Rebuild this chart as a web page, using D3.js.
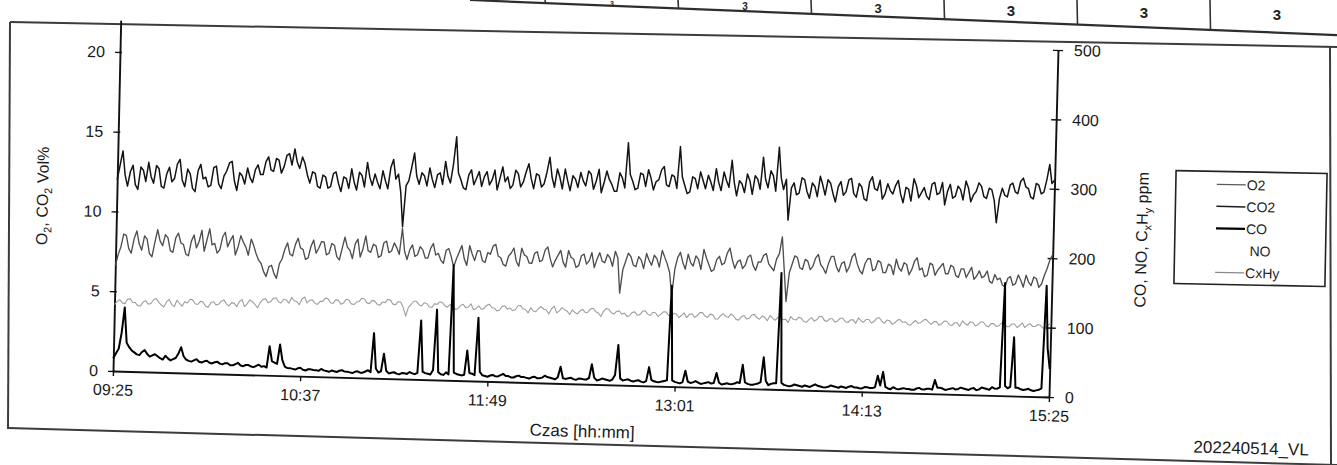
<!DOCTYPE html>
<html><head><meta charset="utf-8">
<script src="https://cdn.jsdelivr.net/npm/d3@7"></script>
<style>
html,body{margin:0;padding:0;background:#fff;}
svg{display:block;font-family:"Liberation Sans",Arial,sans-serif;}
</style></head><body>
<svg id="chart" width="1337" height="465"></svg>
<script>
// ---------------- data ----------------
const timeTicks = [0, 72, 144, 216, 288, 360];           // minutes after 09:25
const timeLabels = ["09:25", "10:37", "11:49", "13:01", "14:13", "15:25"];
const leftTicks = [0, 5, 10, 15, 20];
const rightTicks = [0, 100, 200, 300, 400, 500];
const stepMinutes = 1;                                   // one reading per minute, 09:25 … 15:25
const seriesNames = ["O2", "CO2", "CO", "NO", "CxHy"];
const tableCells = ["3", "3", "3", "3", "3", "3"];
const footerCode = "202240514_VL";

const CO2 = [
12.0,12.9,13.8,12.3,11.6,12.5,12.9,11.7,11.4,12.8,12.6,11.9,13.1,12.2,11.8,12.9,12.7,11.6,11.5,12.4,
12.8,11.9,12.1,13.0,13.3,12.0,11.6,12.7,12.4,11.5,11.3,12.6,13.0,12.1,12.2,11.6,11.7,12.8,12.9,11.8,
11.5,12.3,12.6,13.1,13.2,12.0,11.4,12.5,12.3,11.8,12.8,12.2,11.9,12.7,13.0,12.4,12.4,13.2,13.5,12.7,
12.6,13.4,13.3,12.5,12.9,13.6,13.7,13.0,14.0,13.2,12.8,13.5,13.1,12.4,11.9,12.6,12.5,11.7,11.6,12.4,
12.3,11.6,11.7,12.5,12.6,11.9,11.4,12.3,12.2,11.6,12.8,12.0,11.5,12.6,12.4,11.7,13.2,12.3,11.8,12.5,
12.0,11.6,12.7,12.1,11.6,12.9,13.4,12.2,12.5,11.4,9.3,11.8,12.1,12.9,13.8,12.4,11.9,12.6,12.4,11.8,
12.9,12.2,11.7,12.5,12.6,11.9,13.3,12.4,12.0,13.1,14.8,12.6,12.2,11.7,11.6,12.5,12.8,11.9,12.3,12.7,
11.8,12.4,12.7,11.9,12.2,12.8,11.6,12.3,13.0,12.1,12.4,11.7,11.9,12.8,12.6,11.8,12.1,12.7,13.2,12.3,
11.7,12.6,12.5,11.8,12.0,12.7,13.6,12.4,11.8,12.9,12.4,11.7,12.9,12.2,11.6,12.5,12.3,11.8,12.7,12.2,
11.9,12.8,12.6,11.7,12.2,12.9,11.5,12.1,12.8,12.3,12.0,11.6,11.6,12.7,12.4,11.8,14.5,12.6,12.2,11.7,
11.8,12.7,12.6,11.9,12.9,12.4,11.7,12.2,12.3,12.9,13.1,12.0,11.9,12.6,12.5,11.8,14.3,12.5,12.0,11.5,
11.6,12.5,12.4,11.8,12.8,12.3,11.8,12.6,12.2,11.7,13.0,12.2,11.7,12.8,12.3,11.9,13.5,12.2,11.4,12.3,
12.1,11.6,12.7,12.3,11.5,12.6,12.4,11.8,13.7,12.4,11.9,12.9,12.6,11.7,14.3,12.5,11.8,12.4,10.0,11.9,
12.2,11.5,11.6,12.5,12.4,11.7,11.3,12.2,12.0,11.4,12.6,12.1,11.5,12.4,12.2,11.6,11.1,12.0,12.3,11.5,
11.7,12.4,12.5,11.6,11.4,12.2,12.0,11.3,11.2,12.3,12.6,11.9,11.8,12.4,11.3,11.6,12.2,11.8,11.6,12.1,
12.4,11.6,11.1,12.0,11.9,11.2,12.5,12.1,11.4,11.7,12.0,11.5,11.3,12.2,12.3,11.6,11.7,12.3,11.0,11.8,
12.2,11.4,11.5,12.1,11.9,11.3,12.4,12.0,11.2,11.6,11.8,12.3,12.1,11.5,11.4,12.0,11.9,11.3,10.0,11.4,
12.0,11.6,11.5,12.2,12.3,11.8,11.7,12.4,12.6,12.1,12.0,11.5,11.4,12.3,12.2,11.7,11.8,12.5,13.4,12.3,
12.5];

const O2 = [
6.6,7.3,7.8,8.6,8.5,7.7,7.4,8.3,8.8,8.0,7.6,8.5,8.3,7.4,7.2,8.1,8.9,8.2,7.9,8.6,
8.4,7.6,7.5,8.4,8.7,8.1,8.0,7.4,7.3,8.2,8.6,7.8,8.2,8.9,7.6,8.3,9.0,8.0,8.1,7.5,
7.7,8.5,8.8,7.9,8.3,8.6,7.4,7.9,8.6,8.2,7.9,7.4,8.4,8.0,7.5,7.1,6.9,6.4,6.1,6.7,
6.8,6.3,6.0,6.9,7.2,7.8,8.2,7.5,7.4,8.1,8.5,7.9,7.8,7.2,7.3,8.0,8.4,7.6,7.9,8.3,
8.3,7.5,7.6,8.2,8.1,7.4,7.2,7.9,8.6,8.0,7.8,7.3,8.2,8.5,7.4,7.9,8.7,7.8,7.7,8.2,
8.1,7.4,7.5,8.3,8.4,7.7,7.8,8.3,8.0,7.6,9.2,7.8,7.3,7.9,8.2,7.5,7.6,8.1,7.9,7.4,
7.4,8.0,8.3,7.6,7.7,7.3,7.1,7.9,8.0,7.5,6.9,7.4,7.8,8.2,7.4,7.0,8.2,7.7,7.3,7.9,
7.9,7.3,7.2,7.8,7.7,8.2,8.3,7.6,7.5,7.1,7.0,7.6,7.8,8.1,7.3,7.0,8.1,7.7,7.6,7.2,
7.2,7.8,7.9,7.3,7.4,8.0,8.2,7.5,7.0,7.4,7.7,8.0,7.3,7.0,8.0,7.6,7.5,7.0,7.1,7.7,
7.8,7.2,7.4,7.9,7.0,7.5,7.9,7.4,7.3,7.8,7.6,7.1,8.0,7.6,5.5,6.9,7.4,7.9,7.7,7.2,
7.1,7.7,7.5,7.0,7.9,7.5,7.2,7.8,7.6,7.1,8.1,7.7,7.3,6.8,5.4,7.0,7.7,8.0,7.4,7.0,
7.9,7.4,7.2,7.8,7.6,7.0,8.2,7.7,7.3,6.9,7.0,7.6,7.8,7.3,7.4,8.0,8.3,7.6,7.1,7.5,
7.6,7.1,7.3,7.8,7.9,7.3,7.0,7.5,7.5,7.9,8.0,7.4,7.2,7.0,7.7,8.0,9.0,7.1,5.2,6.9,
7.4,7.9,7.8,7.2,7.1,7.7,7.6,7.1,7.3,7.8,8.0,7.4,7.2,6.9,7.5,7.9,7.9,7.3,7.0,7.5,
7.6,7.0,7.3,7.9,8.1,7.5,7.1,6.9,7.5,7.8,7.8,7.1,7.2,7.7,7.6,7.0,7.0,7.5,7.4,6.9,
7.8,7.3,7.1,7.6,7.5,6.9,7.2,7.7,7.9,7.2,7.3,6.8,6.9,7.6,7.5,6.9,7.2,7.4,7.6,7.0,
7.0,7.5,7.4,6.9,6.8,7.3,7.3,6.8,7.1,7.4,6.7,6.9,7.2,6.8,6.9,7.2,6.6,6.5,7.0,6.7,
6.8,6.4,6.3,6.8,6.9,6.4,6.5,7.0,6.7,6.3,7.0,6.6,6.4,6.9,6.8,6.3,6.5,7.0,7.4,7.9,
8.2];

const CxHy = [
104,109,112,107,106,113,114,108,108,103,103,109,111,106,107,113,115,109,105,102,
110,114,106,103,113,108,104,111,109,115,114,108,107,112,111,105,103,110,112,107,
108,113,115,109,106,111,110,105,113,116,105,110,116,113,109,104,112,117,118,112,
114,119,120,114,112,118,117,112,121,116,115,110,119,122,113,117,118,113,111,116,
116,121,120,114,113,119,118,112,114,120,119,113,112,116,117,122,121,115,114,119,
118,113,112,117,116,121,120,114,113,118,117,109,96,110,114,119,119,114,112,117,
116,111,110,116,115,119,118,113,111,115,114,108,109,114,116,111,112,117,108,110,
114,109,110,115,117,112,111,107,108,114,115,110,112,108,109,115,116,111,110,105,
113,108,107,112,115,111,110,104,112,116,106,109,114,111,109,104,111,107,105,110,
112,107,108,113,114,109,107,102,110,114,113,108,106,110,111,106,108,103,104,109,
110,105,106,111,112,107,105,110,109,104,107,111,111,106,104,109,108,103,106,110,
103,108,109,104,106,111,111,106,104,109,108,102,102,107,110,106,105,110,107,102,
101,106,108,103,104,109,110,105,103,108,106,101,109,105,102,106,107,103,104,99,
108,104,103,107,106,101,100,104,107,102,104,109,109,103,102,106,106,101,103,107,
107,102,101,105,105,100,108,104,102,106,106,101,103,108,109,104,101,106,105,100,
102,106,107,103,104,100,99,103,106,102,103,107,108,104,101,105,105,100,102,106,
106,101,100,104,104,99,107,103,101,106,105,100,102,106,106,101,99,104,104,100,
101,105,105,100,100,104,104,99,102,106,99,103,105,101,101,104,103,99,100,104,
106];

const CO = [
20,28,35,60,100,45,38,33,30,27,26,31,34,28,24,26,28,25,22,20,
26,22,19,21,23,30,40,26,21,19,18,20,22,18,17,19,20,17,16,18,
19,16,15,17,17,14,14,16,18,14,13,15,15,13,12,14,16,13,14,12,
45,22,20,18,48,24,14,12,12,11,10,12,13,10,9,11,11,10,10,9,
12,10,9,8,10,9,8,10,11,9,9,8,7,9,10,8,8,10,12,9,
69,15,9,11,38,12,8,9,10,8,7,9,9,8,11,9,8,10,90,12,
10,9,8,15,107,12,9,8,12,9,175,12,10,9,8,9,46,12,11,9,
96,14,9,8,7,9,10,8,8,10,12,9,9,7,7,9,10,8,8,7,
6,8,9,7,7,8,11,9,8,7,6,9,25,8,7,8,9,7,6,8,
8,7,7,9,30,10,6,7,9,8,7,6,8,15,60,10,7,8,9,7,
6,7,8,6,5,7,28,9,7,6,6,7,8,9,150,9,7,6,5,7,
24,8,6,7,9,7,5,6,7,8,6,7,22,8,5,6,7,6,6,7,
9,8,35,9,7,6,6,7,8,10,47,12,6,8,9,9,172,10,7,6,
5,6,8,7,6,5,7,6,5,7,9,7,6,5,5,6,8,7,6,5,
7,6,5,7,8,6,6,5,5,7,7,6,6,7,24,10,30,8,6,5,
8,6,5,6,7,6,6,5,5,7,8,6,6,7,7,6,20,9,9,8,
6,7,8,9,7,8,10,9,8,7,9,10,7,8,11,10,9,8,12,10,
10,12,163,14,11,13,85,12,12,10,9,10,11,9,8,9,10,12,160,70,
40];

const NO = [];   // no NO trace is visible in the source chart

// ---------------- layout (scanned, slightly warped plot area) ----------------
const P = { tl: [120, 52], tr: [1058, 50], bl: [113, 371], br: [1049, 397] };
function warp(u, v) {
  const a = (1 - u) * (1 - v), b = u * (1 - v), c = (1 - u) * v, d = u * v;
  return [a * P.bl[0] + b * P.br[0] + c * P.tl[0] + d * P.tr[0],
          a * P.bl[1] + b * P.br[1] + c * P.tl[1] + d * P.tr[1]];
}
const FONT = "Liberation Sans, Arial, sans-serif";

const svg = d3.select("#chart");
svg.append("rect").attr("width", 1337).attr("height", 465).attr("fill", "#fff");

// scales
const x = d3.scaleLinear().domain([0, 360]).range([0, 1]);
const yL = d3.scaleLinear().domain([0, 20]).range([0, 1]);
const yR = d3.scaleLinear().domain([0, 500]).range([0, 1]);

// ---------------- page frame and table fragment ----------------
const frame = svg.append("g").attr("fill", "none").attr("stroke", "#3c3c3c").attr("stroke-width", 2);
frame.append("path").attr("d", "M10,22 L1337,47");
frame.append("path").attr("d", "M10,22 L8,429");
frame.append("path").attr("d", "M8,428 L1337,465");
frame.append("path").attr("d", "M1330,46 L1331,465");

const tblLineY = xx => (xx - 470) * 0.0404;
const tbl = svg.append("g");
tbl.append("path").attr("d", `M470,0 L1337,${tblLineY(1337)}`)
  .attr("stroke", "#2e2e2e").attr("stroke-width", 2.2).attr("fill", "none");
const cellFont = [7, 10, 13, 15, 15, 15];
const cellBase = [5.5, 10, 13, 15.5, 18, 20];
tableCells.forEach((t, i) => {
  const x0 = 545 + i * 133;
  tbl.append("line").attr("x1", x0).attr("y1", 0).attr("x2", x0 + 0.5).attr("y2", tblLineY(x0))
    .attr("stroke", "#333").attr("stroke-width", 1.6);
  tbl.append("text").attr("x", x0 + 67).attr("y", cellBase[i])
    .attr("text-anchor", "middle").attr("font-family", FONT).attr("font-size", cellFont[i])
    .attr("font-weight", "bold").attr("fill", "#222").text(t);
});

// ---------------- axes ----------------
function placeAlong(p0, p1, vertical) {
  const dx = p1[0] - p0[0], dy = p1[1] - p0[1];
  const len = Math.hypot(dx, dy);
  const ang = vertical ? Math.atan2(dx, -dy) * 180 / Math.PI : Math.atan2(dy, dx) * 180 / Math.PI;
  return { len, ang };
}
function styleAxis(g) {
  g.attr("font-family", FONT).attr("font-size", 16);
  g.selectAll("path.domain").attr("stroke", "#111").attr("stroke-width", 1.9);
  g.selectAll(".tick line").attr("stroke", "#111").attr("stroke-width", 1.4);
  g.selectAll(".tick text").attr("fill", "#1a1a1a");
}

// bottom (time) axis
const bAx = placeAlong(P.bl, P.br, false);
const xAxisScale = d3.scaleLinear().domain([0, 360]).range([0, bAx.len]);
const gx = svg.append("g").attr("transform", `translate(${P.bl[0]},${P.bl[1]}) rotate(${bAx.ang})`)
  .call(d3.axisBottom(xAxisScale).tickValues(timeTicks).tickFormat((d, i) => timeLabels[i])
    .tickSize(5).tickSizeOuter(0).tickPadding(8));
styleAxis(gx);

// left axis (Vol%) – line runs slightly above the 20 mark
const lAx = placeAlong(P.bl, P.tl, true);
const yLeftAxisScale = d3.scaleLinear().domain([0, 22]).range([0, -lAx.len * 22 / 20]);
const gl = svg.append("g").attr("transform", `translate(${P.bl[0]},${P.bl[1]}) rotate(${lAx.ang})`)
  .call(d3.axisLeft(yLeftAxisScale).tickValues(leftTicks).tickSize(5).tickSizeOuter(0).tickPadding(10));
styleAxis(gl);
gl.selectAll(".tick line").attr("x1", 2);

// right axis (ppm)
const rAx = placeAlong(P.br, P.tr, true);
const yRightAxisScale = d3.scaleLinear().domain([0, 500]).range([0, -rAx.len]);
const gr = svg.append("g").attr("transform", `translate(${P.br[0]},${P.br[1]}) rotate(${rAx.ang})`)
  .call(d3.axisRight(yRightAxisScale).tickValues(rightTicks).tickSize(5).tickSizeOuter(0).tickPadding(11));
styleAxis(gr);
gr.selectAll(".tick line").attr("x1", -5).attr("x2", 5);

// ---------------- series ----------------
const seriesDefs = [
  { name: "CxHy", data: CxHy, scale: yR, color: "#9e9e9e", width: 1.1 },
  { name: "O2",   data: O2,   scale: yL, color: "#4e4e4e", width: 1.35 },
  { name: "CO2",  data: CO2,  scale: yL, color: "#141414", width: 1.5 },
  { name: "NO",   data: NO,   scale: yR, color: "#ffffff", width: 1 },
  { name: "CO",   data: CO,   scale: yR, color: "#000000", width: 2.0 }
];
const plot = svg.append("g").attr("fill", "none").attr("stroke-linejoin", "round");
seriesDefs.forEach(s => {
  if (!s.data.length) return;
  const line = d3.line()
    .x((d, i) => warp(x(i * stepMinutes), s.scale(d))[0])
    .y((d, i) => warp(x(i * stepMinutes), s.scale(d))[1]);
  plot.append("path").datum(s.data).attr("d", line)
    .attr("stroke", s.color).attr("stroke-width", s.width);
});

// ---------------- titles ----------------
const lt = svg.append("text").attr("font-family", FONT).attr("font-size", 16).attr("fill", "#1a1a1a")
  .attr("text-anchor", "middle")
  .attr("transform", `translate(48,196) rotate(${-90 + lAx.ang})`);
lt.append("tspan").text("O");
lt.append("tspan").attr("font-size", 11).attr("dy", 4).text("2");
lt.append("tspan").attr("dy", -4).text(", CO");
lt.append("tspan").attr("font-size", 11).attr("dy", 4).text("2");
lt.append("tspan").attr("dy", -4).text(" Vol%");

const rt = svg.append("text").attr("font-family", FONT).attr("font-size", 16).attr("fill", "#1a1a1a")
  .attr("text-anchor", "middle")
  .attr("transform", `translate(1147,240) rotate(${-90 + rAx.ang})`);
rt.append("tspan").text("CO, NO, C");
rt.append("tspan").attr("font-size", 11).attr("dy", 4).text("x");
rt.append("tspan").attr("dy", -4).text("H");
rt.append("tspan").attr("font-size", 11).attr("dy", 4).text("y");
rt.append("tspan").attr("dy", -4).text(" ppm");

svg.append("text").attr("font-family", FONT).attr("font-size", 17).attr("fill", "#1a1a1a")
  .attr("text-anchor", "middle")
  .attr("transform", `translate(582,437) rotate(${bAx.ang})`).text("Czas [hh:mm]");

svg.append("text").attr("font-family", FONT).attr("font-size", 17).attr("fill", "#1a1a1a")
  .attr("text-anchor", "middle")
  .attr("transform", `translate(1251,454) rotate(1.5)`).text(footerCode);

// ---------------- legend ----------------
const legendStyle = {
  O2:   { color: "#5a5a5a", width: 1.2 },
  CO2:  { color: "#1c1c1c", width: 1.5 },
  CO:   { color: "#000000", width: 2.2 },
  NO:   { color: "none",    width: 0 },
  CxHy: { color: "#8a8a8a", width: 1.1 }
};
const lg = svg.append("g").attr("transform", "rotate(1.1,1250,228)");
lg.append("rect").attr("x", 1175).attr("y", 172).attr("width", 151).attr("height", 113)
  .attr("fill", "#fff").attr("stroke", "#222").attr("stroke-width", 1.6);
seriesNames.forEach((n, i) => {
  const yy = 185 + i * 22;
  const st = legendStyle[n];
  if (st.color !== "none") {
    lg.append("line").attr("x1", 1216).attr("x2", 1245).attr("y1", yy).attr("y2", yy)
      .attr("stroke", st.color).attr("stroke-width", st.width);
  }
  lg.append("text").attr("x", n === "NO" ? 1250 : 1246).attr("y", yy + 5)
    .attr("font-family", FONT).attr("font-size", 14).attr("fill", "#1e1e1e").text(n);
});
</script>
</body></html>
